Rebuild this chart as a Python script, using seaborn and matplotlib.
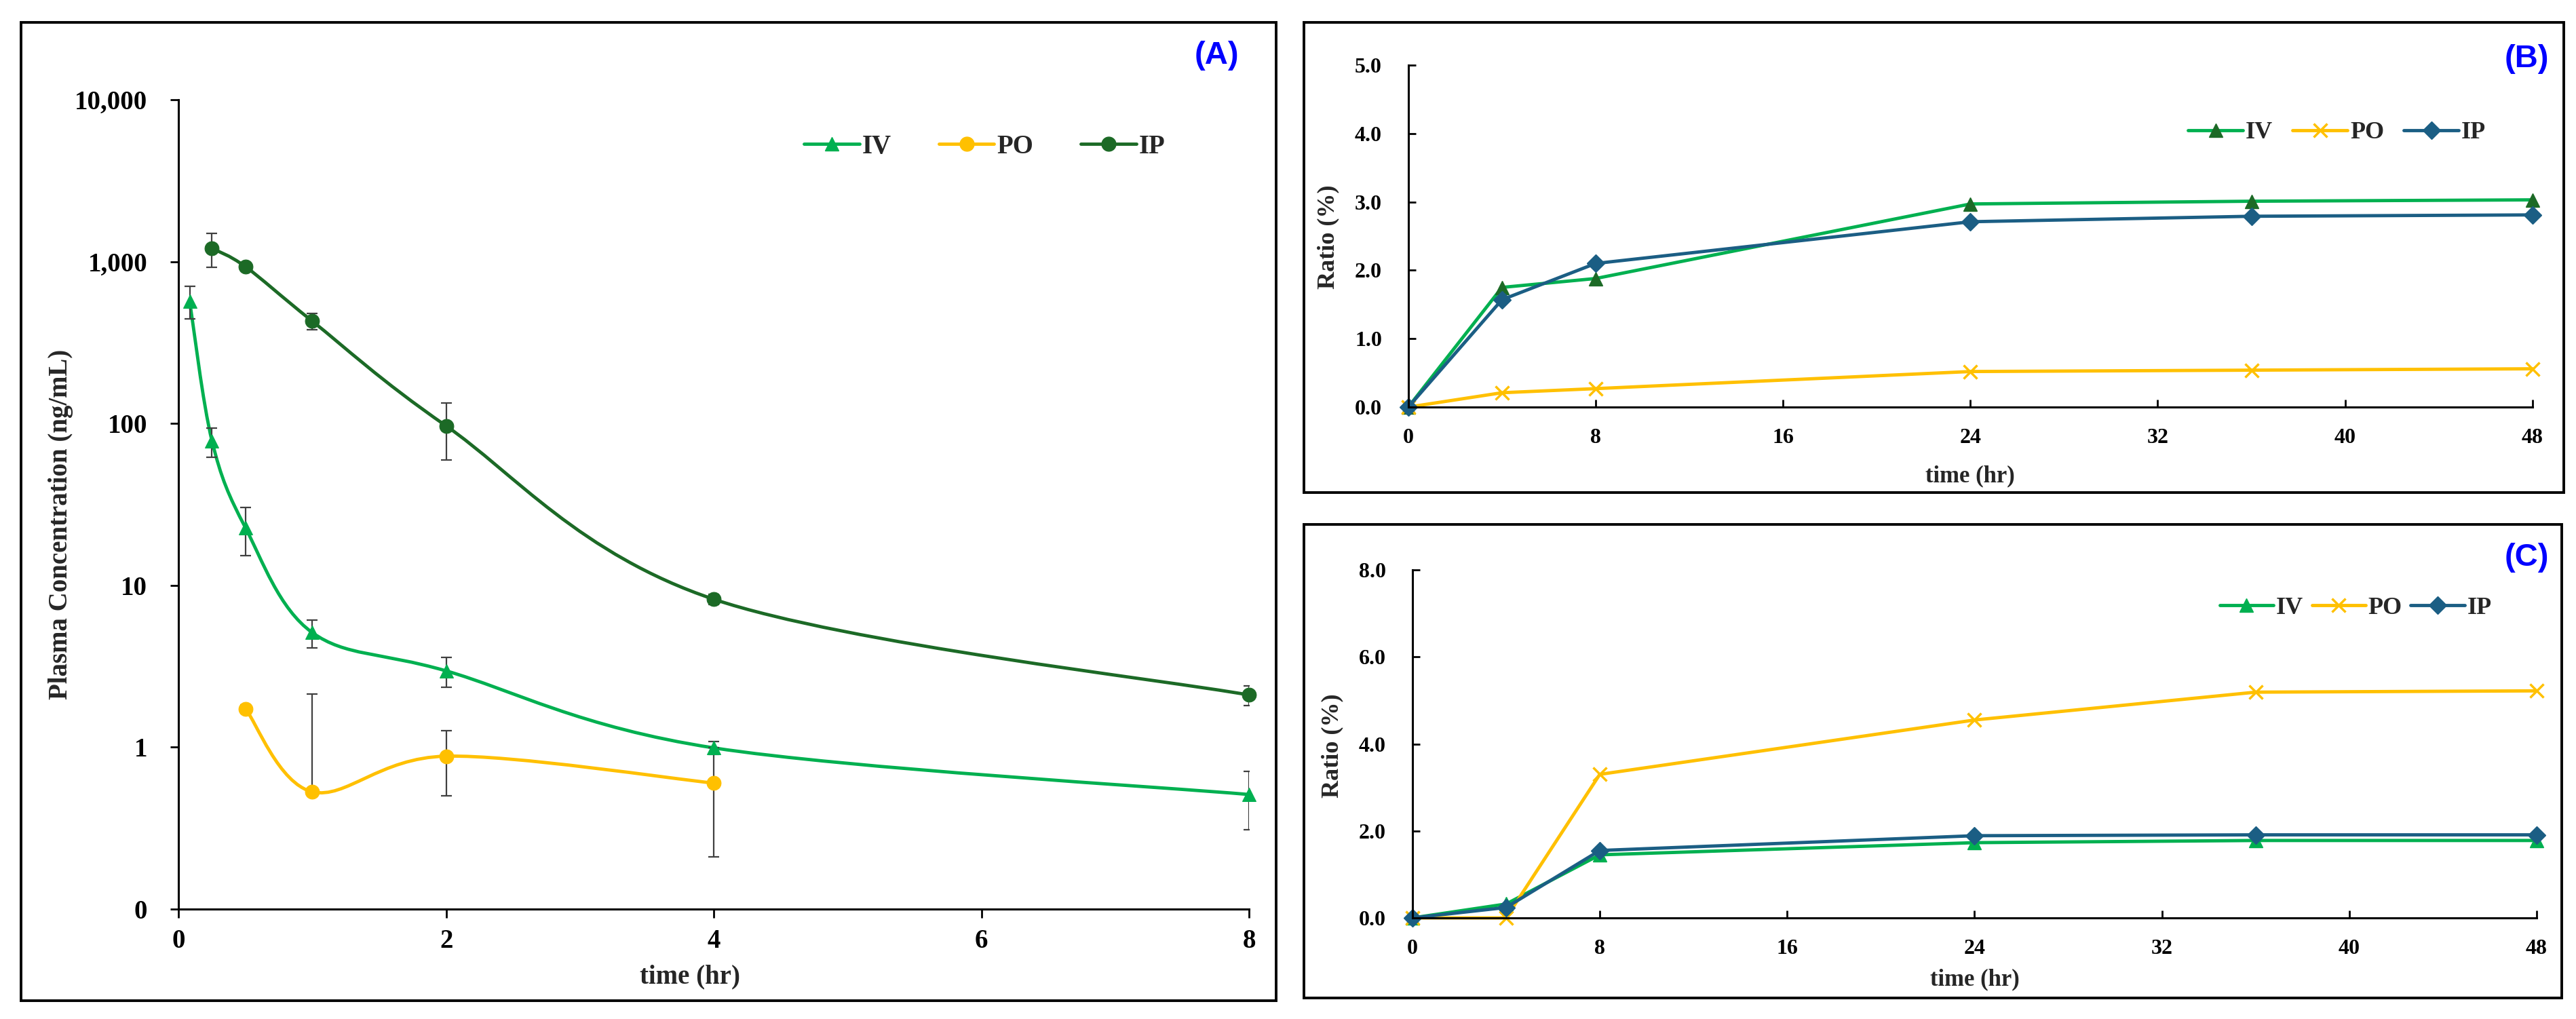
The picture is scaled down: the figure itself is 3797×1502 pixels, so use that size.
import numpy as np
import matplotlib
matplotlib.use("Agg")
import matplotlib.pyplot as plt
from matplotlib.path import Path
from matplotlib.patches import PathPatch, Rectangle
from matplotlib.lines import Line2D
from matplotlib.ticker import FixedLocator, FixedFormatter, NullLocator
import seaborn as sns

# (A) plasma concentration (ng/mL), mean and SD
TIME_IV = [0.083, 0.25, 0.5, 1, 2, 4, 8]
IV_MEAN = [571, 78, 22.7, 5.1, 2.96, 0.99, 0.51]
IV_SD = [130, 16, 7.5, 1.0, 0.62, 0.09, 0.2]

TIME_PO = [0.5, 1, 2, 4]
PO_MEAN = [1.73, 0.53, 0.88, 0.60]
PO_SD = [0.1, 1.6, 0.38, 0.39]

TIME_IP = [0.25, 0.5, 1, 2, 4, 8]
IP_MEAN = [1208, 930, 428, 96.5, 8.2, 2.1]
IP_SD = [290, 40, 50, 37, 0.6, 0.3]

# (B) and (C) ratio (%)
TIME_RATIO = [0, 4, 8, 24, 36, 48]
B_IV = [0, 1.75, 1.88, 2.97, 3.01, 3.03]
B_PO = [0, 0.21, 0.27, 0.52, 0.54, 0.56]
B_IP = [0, 1.57, 2.10, 2.71, 2.79, 2.81]

C_IV = [0, 0.32, 1.45, 1.73, 1.78, 1.78]
C_PO = [0, 0.0, 3.30, 4.55, 5.19, 5.22]
C_IP = [0, 0.24, 1.55, 1.89, 1.91, 1.91]

A_YTICKS = [0.1, 1, 10, 100, 1000, 10000]
A_YLABELS = ["0", "1", "10", "100", "1,000", "10,000"]

GREEN = "#00B050"
DKGREEN = "#1C6A26"
GOLD = "#FFC000"
BLUE = "#1B5E84"
ERR = "#404040"

sns.set_style("ticks")
plt.rcParams["font.family"] = ["Liberation Serif", "DejaVu Serif"]
plt.rcParams["font.weight"] = "bold"
plt.rcParams["axes.labelweight"] = "bold"


def smooth_path(x, y):
    # Excel-like smoothed line: Bezier segments, tangents from neighbours (log y)
    px = np.asarray(x, float)
    py = np.log10(np.asarray(y, float))
    n = len(px)
    verts = [(px[0], py[0])]
    codes = [Path.MOVETO]
    for i in range(n - 1):
        i0 = max(i - 1, 0)
        i3 = min(i + 2, n - 1)
        c1 = (px[i] + (px[i + 1] - px[i0]) / 6, py[i] + (py[i + 1] - py[i0]) / 6)
        c2 = (px[i + 1] - (px[i3] - px[i]) / 6, py[i + 1] - (py[i3] - py[i]) / 6)
        verts += [c1, c2, (px[i + 1], py[i + 1])]
        codes += [Path.CURVE4] * 3
    verts = np.array(verts)
    verts[:, 1] = 10 ** verts[:, 1]
    return Path(verts, codes)


fig = plt.figure(figsize=(37.97, 15.02), dpi=100)

# panel frames
for (x0, y0, w, h) in [(0.0082, 0.0180, 0.4872, 0.9600),
                       (0.5062, 0.5166, 0.4891, 0.4614),
                       (0.5062, 0.0206, 0.4883, 0.4647)]:
    fig.add_artist(Rectangle((x0, y0), w, h, transform=fig.transFigure,
                             fill=False, lw=2.8, ec="black"))

# ---------------- (A)
ax = fig.add_axes([0.0693, 0.1079, 0.4156, 0.7943])
ax.set_yscale("log")
ax.set_xlim(0, 8)
ax.set_ylim(0.1, 10000)

series_a = [
    (TIME_IV, IV_MEAN, IV_SD, GREEN, "^", "IV"),
    (TIME_PO, PO_MEAN, PO_SD, GOLD, "o", "PO"),
    (TIME_IP, IP_MEAN, IP_SD, DKGREEN, "o", "IP"),
]
handles = []
for t, m, sd, c, mk, name in series_a:
    m = np.asarray(m, float)
    sd = np.asarray(sd, float)
    low = np.where(m - sd > 0, sd, 0)
    ax.errorbar(t, m, yerr=[low, sd], fmt="none", ecolor=ERR, elinewidth=1.6,
                capsize=6, capthick=1.6, zorder=3)
    ax.add_patch(PathPatch(smooth_path(t, m), facecolor="none", edgecolor=c,
                           lw=3.5, zorder=2))
    sns.lineplot(x=t, y=m, ax=ax, linestyle="none", marker=mk, markersize=15,
                 color=c, markerfacecolor=c, markeredgecolor=c, zorder=4,
                 clip_on=False)
    handles.append(Line2D([], [], color=c, lw=3.5, marker=mk, markersize=15,
                          markerfacecolor=c, markeredgecolor=c, label=name))

ax.yaxis.set_major_locator(FixedLocator(A_YTICKS))
ax.yaxis.set_major_formatter(FixedFormatter(A_YLABELS))
ax.yaxis.set_minor_locator(NullLocator())
ax.set_xticks([0, 2, 4, 6, 8])
ax.tick_params(axis="both", direction="out", length=9, width=2, labelsize=28,
               colors="black")
ax.tick_params(axis="y", pad=24)
ax.tick_params(axis="x", pad=12)
for s in ["top", "right"]:
    ax.spines[s].set_visible(False)
for s in ["left", "bottom"]:
    ax.spines[s].set_linewidth(2.2)
    ax.spines[s].set_color("black")
ax.set_xlabel("time (hr)", fontsize=28)
ax.set_ylabel("Plasma Concentration (ng/mL)", fontsize=28)
ax.xaxis.set_label_coords(0.478, -0.068)
ax.yaxis.set_label_coords(-0.098, 0.475)
ax.legend(handles=handles, ncol=3, loc="center", bbox_to_anchor=(0.753, 0.942),
          frameon=False, fontsize=28, handlelength=2.1, handletextpad=0.1,
          columnspacing=1.8)


# ---------------- (B) / (C)
def ratio_panel(rect, iv, po, ip, ymax, ystep, iv_mc, leg_xy, colsp, hlen,
                xlab_y, ylab_y):
    ax = fig.add_axes(rect)
    series = [
        (iv, GREEN, "^", iv_mc, 15, 1, "IV"),
        (po, GOLD, "x", GOLD, 15, 2.5, "PO"),
        (ip, BLUE, "D", BLUE, 13, 1, "IP"),
    ]
    hs = []
    for vals, c, mk, mc, ms, mew, name in series:
        sns.lineplot(x=TIME_RATIO, y=vals, ax=ax, color=c, lw=3.5, marker=mk,
                     markersize=ms, markerfacecolor=mc, markeredgecolor=mc,
                     markeredgewidth=mew, clip_on=False)
        hs.append(Line2D([], [], color=c, lw=3.5, marker=mk, markersize=ms,
                         markerfacecolor=mc, markeredgecolor=mc,
                         markeredgewidth=mew, label=name))
    ax.set_xlim(0, 48)
    ax.set_ylim(0, ymax)
    ax.set_xticks(np.arange(0, 49, 8))
    yt = np.arange(0, ymax + 0.01, ystep)
    ax.set_yticks(yt)
    ax.set_yticklabels([f"{v:.1f}" for v in yt])
    ax.tick_params(axis="both", direction="in", length=8, width=2,
                   labelsize=23, colors="black")
    ax.tick_params(axis="y", pad=28)
    ax.tick_params(axis="x", pad=22)
    for s in ["top", "right"]:
        ax.spines[s].set_visible(False)
    for s in ["left", "bottom"]:
        ax.spines[s].set_linewidth(2.2)
        ax.spines[s].set_color("black")
    ax.set_xlabel("time (hr)", fontsize=25)
    ax.set_ylabel("Ratio (%)", fontsize=26)
    ax.xaxis.set_label_coords(0.5, xlab_y)
    ax.yaxis.set_label_coords(-0.061, ylab_y)
    ax.legend(handles=hs, ncol=3, loc="center", bbox_to_anchor=leg_xy,
              frameon=False, fontsize=26, handlelength=hlen,
              handletextpad=0.1, columnspacing=colsp)
    return ax


ratio_panel([0.5467, 0.6005, 0.4364, 0.3356], B_IV, B_PO, B_IP, 5, 1.0,
            DKGREEN, (0.826, 0.802), 0.8, 2.25, -0.17, 0.498)
ratio_panel([0.5483, 0.0992, 0.4364, 0.3415], C_IV, C_PO, C_IP, 8, 2.0,
            GREEN, (0.839, 0.891), 0.35, 2.2, -0.145, 0.495)

# panel labels
for lab, x, y in [("(A)", 0.4722, 0.9454), ("(B)", 0.981, 0.942), ("(C)", 0.981, 0.4527)]:
    fig.text(x, y, lab, ha="center", va="center", color="#0000FF", fontsize=34,
             fontweight="bold", family=["Liberation Sans", "DejaVu Sans"])

fig.savefig("out.png", dpi=100)
